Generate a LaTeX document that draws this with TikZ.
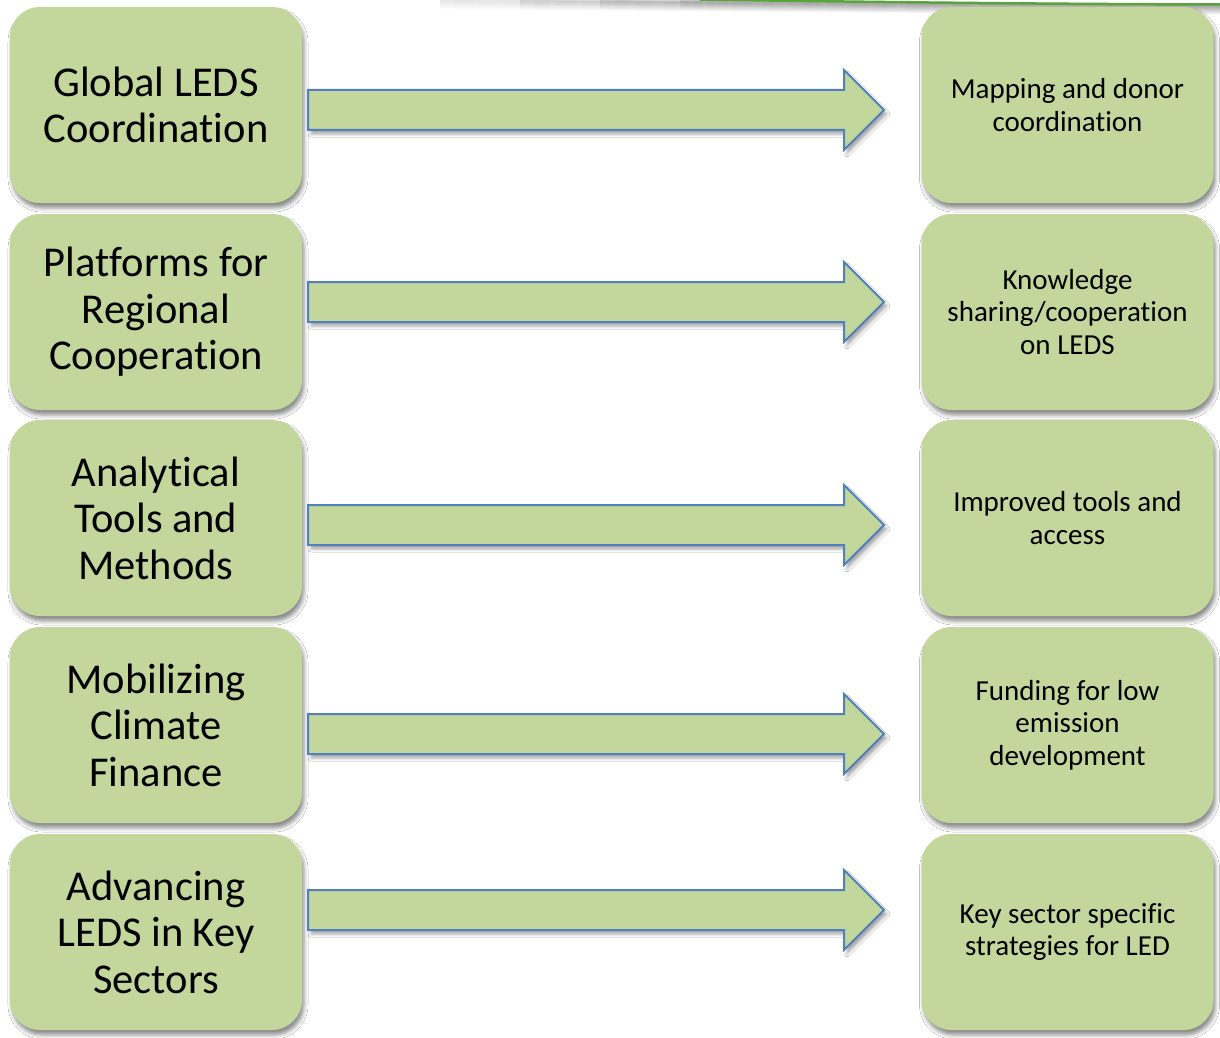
\documentclass[tikz,border=0pt]{standalone}
\usepackage{fontspec}
\setmainfont[Ligatures={NoCommon},RawFeature={-clig}]{Carlito}
\usetikzlibrary{shadows.blur,calc}
\definecolor{boxgreen}{HTML}{C3D69B}
\definecolor{arrowblue}{HTML}{4F81BD}
\definecolor{linegreen}{HTML}{5BA33B}
\tikzset{
  bigbox/.style={draw=none, fill=boxgreen, rounded corners=30pt, minimum width=292pt, minimum height=196pt, inner sep=0pt, align=center, font=\fontsize{42.5}{46.5}\selectfont, blur shadow={shadow xshift=2pt, shadow yshift=-5pt, shadow opacity=45, shadow blur radius=4pt}},
  smallbox/.style={bigbox, font=\fontsize{29}{32.5}\selectfont},
  blockarrow/.style={draw=arrowblue, line width=2pt, fill=boxgreen, line join=miter, blur shadow={shadow xshift=3pt, shadow yshift=-4pt, shadow opacity=35, shadow blur radius=3pt}}
}
\begin{document}
\begin{tikzpicture}[x=1pt,y=-1pt]
\useasboundingbox (0,0) rectangle (1220,1038);
\fill[white] (0,0) rectangle (1220,1038);
% top green line with soft shadow
\foreach \s in {440,520,600,680}{
\foreach \d/\o in {1/0.05,2/0.045,3/0.04,4/0.035,5/0.03,6/0.025,7/0.02,8/0.015,9/0.01,10/0.008}{
  \draw[black, line width=2.2pt, opacity=\o] (\s,\d-1.5) .. controls (\s+330,\d+2) and (1050,\d+3.5) .. (1222,\d+3.5);
}}
\draw[linegreen, line width=2.5pt] (700,-0.5) .. controls (900,2.5) and (1050,4) .. (1222,4.5);

% left boxes
\node[bigbox] (L1) at (156,105) {Global LEDS\\Coordination};
\node[bigbox] (L2) at (156,312) {Platforms for\\Regional\\Cooperation};
\node[bigbox] (L3) at (156,518) {Analytical\\Tools and\\Methods};
\node[bigbox] (L4) at (156,725) {Mobilizing\\Climate\\Finance};
\node[bigbox] (L5) at (156,932) {Advancing\\LEDS in Key\\Sectors};
% right boxes
\node[smallbox] (R1) at (1067.5,105) {Mapping and donor\\coordination};
\node[smallbox] (R2) at (1067.5,312) {Knowledge\\sharing/cooperation\\on LEDS};
\node[smallbox] (R3) at (1067.5,518) {Improved tools and\\access};
\node[smallbox] (R4) at (1067.5,725) {Funding for low\\emission\\development};
\node[smallbox] (R5) at (1067.5,932) {Key sector specific\\strategies for LED};

% block arrows
\foreach \y in {110,302,525,734,910}{
  \draw[blockarrow] (308,\y-20) -- (844,\y-20) -- (844,\y-40) -- (884,\y) -- (844,\y+40) -- (844,\y+20) -- (308,\y+20) -- cycle;
}
\end{tikzpicture}
\end{document}
